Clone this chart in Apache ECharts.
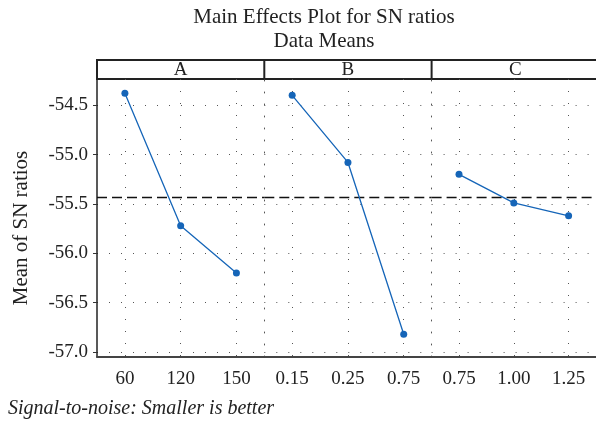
<!DOCTYPE html>
<html>
<head>
<meta charset="utf-8">
<script src="https://cdn.jsdelivr.net/npm/echarts@6/dist/echarts.min.js"></script>
<style>
  html, body { margin: 0; padding: 0; background: #fff; }
  #main { width: 596px; height: 423px; }
</style>
</head>
<body>
<div id="main"></div>
<script>
// factors and their levels / mean SN ratios
var factors = ["A", "B", "C"];
var aLevels = ["60", "120", "150"];
var aMeans = [-54.38, -55.72, -56.20];
var bLevels = ["0.15", "0.25", "0.75"];
var bMeans = [-54.40, -55.08, -56.82];
var cLevels = ["0.75", "1.00", "1.25"];
var cMeans = [-55.20, -55.49, -55.62];
var yTicks = [-57.0, -56.5, -56.0, -55.5, -55.0, -54.5];

var levels = [aLevels, bLevels, cLevels];
var means = [aMeans, bMeans, cMeans];

// overall mean -> dashed reference line
var all = aMeans.concat(bMeans, cMeans);
var grand = all.reduce(function (s, v) { return s + v; }, 0) / all.length;

var fontFamily = "'Liberation Serif', serif";
var textColor = "#222";
var lineBlue = "#1565b8";
var dotGray = "#555";

var gridLeft = 97;
var gridTop = 79;
var gridBottom = 66;
var panelW = 167.3;
var yMin = -57.05;
var yMax = -54.235;

var grids = [], xAxes = [], yAxes = [], series = [];
for (var i = 0; i < 3; i++) {
    grids.push({
        left: gridLeft + i * panelW,
        top: gridTop,
        bottom: gridBottom,
        width: panelW
    });
    xAxes.push({
        type: "category",
        gridIndex: i,
        data: levels[i],
        boundaryGap: true,
        axisLine: { lineStyle: { color: "#444", width: 2 } },
        axisTick: { alignWithLabel: true, length: 4, lineStyle: { color: "#333" } },
        axisLabel: { color: textColor, fontFamily: fontFamily, fontSize: 19, margin: 13 },
        splitLine: {
            show: true,
            alignWithLabel: true,
            lineStyle: { color: dotGray, type: [1, 11], width: 1 }
        }
    });
    yAxes.push({
        type: "value",
        gridIndex: i,
        min: yMin,
        max: yMax,
        axisLine: {
            show: true,
            lineStyle: i === 0 ? { color: "#222", width: 1.5 } : { color: dotGray, type: [1, 11], width: 1 }
        },
        axisTick: { show: i === 0, length: 4, customValues: yTicks, lineStyle: { color: "#333" } },
        axisLabel: {
            show: i === 0,
            customValues: yTicks,
            color: textColor,
            fontFamily: fontFamily,
            fontSize: 19,
            margin: 9,
            formatter: function (v) { return v.toFixed(1); }
        },
        splitLine: { show: true, lineStyle: { color: dotGray, type: [1, 11], width: 1 } }
    });
    series.push({
        type: "line",
        xAxisIndex: i,
        yAxisIndex: i,
        data: means[i],
        symbol: "circle",
        symbolSize: 7,
        itemStyle: { color: lineBlue },
        lineStyle: { color: lineBlue, width: 1.3 },
        z: 5,
        markLine: {
            silent: true,
            symbol: "none",
            label: { show: false },
            lineStyle: { color: "#111", type: [10, 5], width: 1.3 },
            data: [{ yAxis: grand }]
        }
    });
}

// header strip with factor names
var headerTop = 60;
var headerH = gridTop - headerTop;
var headerEls = [{
    type: "rect",
    shape: { x: gridLeft, y: headerTop, width: panelW * 3 + 2, height: headerH },
    style: { fill: "#fff", stroke: "#222", lineWidth: 2 }
}];
factors.forEach(function (f, i) {
    if (i > 0) {
        headerEls.push({
            type: "line",
            shape: { x1: gridLeft + i * panelW, y1: headerTop, x2: gridLeft + i * panelW, y2: gridTop },
            style: { stroke: "#222", lineWidth: 2 }
        });
    }
    headerEls.push({
        type: "text",
        x: gridLeft + (i + 0.5) * panelW,
        y: headerTop + headerH / 2 + 1,
        style: {
            text: f, fill: textColor, font: "19px " + fontFamily,
            textAlign: "center", textVerticalAlign: "middle"
        }
    });
});

var option = {
    backgroundColor: "#fff",
    animation: false,
    grid: grids,
    xAxis: xAxes,
    yAxis: yAxes,
    series: series,
    graphic: [
        {
            type: "text",
            x: 324, y: 17,
            style: {
                text: "Main Effects Plot for SN ratios", fill: textColor,
                font: "21px " + fontFamily, textAlign: "center", textVerticalAlign: "middle"
            }
        },
        {
            type: "text",
            x: 324, y: 41,
            style: {
                text: "Data Means", fill: textColor,
                font: "21px " + fontFamily, textAlign: "center", textVerticalAlign: "middle"
            }
        },
        {
            type: "text",
            x: 21, y: 228,
            rotation: Math.PI / 2,
            style: {
                text: "Mean of SN ratios", fill: textColor,
                font: "21px " + fontFamily, textAlign: "center", textVerticalAlign: "middle"
            }
        },
        {
            type: "text",
            x: 8, y: 409,
            style: {
                text: "Signal-to-noise: Smaller is better", fill: textColor,
                font: "italic 20px " + fontFamily, textAlign: "left", textVerticalAlign: "middle"
            }
        },
        { type: "group", children: headerEls, z: 10 }
    ]
};

var chart = echarts.init(document.getElementById("main"));
chart.setOption(option);
</script>
</body>
</html>
